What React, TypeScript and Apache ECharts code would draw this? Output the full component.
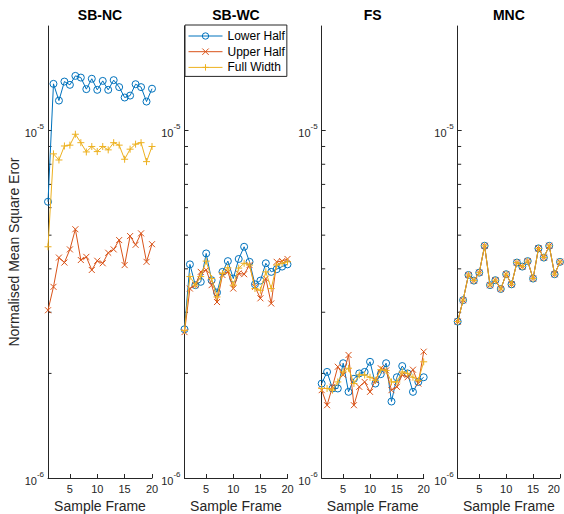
import React, { useEffect, useRef } from "react";
import * as echarts from "echarts";

const frames = [1, 2, 3, 4, 5, 6, 7, 8, 9, 10, 11, 12, 13, 14, 15, 16, 17, 18, 19, 20];
const panelTitles = ["SB-NC", "SB-WC", "FS", "MNC"];
const seriesNames = ["Lower Half", "Upper Half", "Full Width"];
const xTickValues = [5, 10, 15, 20];
const minorTickValues = [2e-6, 3e-6, 4e-6, 5e-6, 6e-6, 7e-6, 8e-6, 9e-6];

const ncLower = [6.24e-6, 1.363e-5, 1.22e-5, 1.384e-5, 1.354e-5, 1.437e-5, 1.421e-5, 1.316e-5, 1.41e-5, 1.31e-5, 1.39e-5, 1.31e-5, 1.397e-5, 1.334e-5, 1.245e-5, 1.261e-5, 1.36e-5, 1.334e-5, 1.212e-5, 1.32e-5];
const ncUpper = [3.04e-6, 3.55e-6, 4.31e-6, 4.17e-6, 4.55e-6, 5.2e-6, 4.24e-6, 4.33e-6, 3.97e-6, 4.22e-6, 4.15e-6, 4.45e-6, 4.55e-6, 4.84e-6, 4.1e-6, 4.97e-6, 4.69e-6, 5.06e-6, 4.19e-6, 4.71e-6];
const ncFull = [4.63e-6, 8.57e-6, 8.23e-6, 9.03e-6, 9.08e-6, 9.76e-6, 9.23e-6, 8.68e-6, 9.0e-6, 8.7e-6, 9.0e-6, 8.8e-6, 9.23e-6, 9.08e-6, 8.27e-6, 8.84e-6, 9.14e-6, 9.23e-6, 8.14e-6, 9.0e-6];

const wcLower = [2.68e-6, 4.12e-6, 3.59e-6, 3.67e-6, 4.43e-6, 3.71e-6, 3.42e-6, 3.92e-6, 4.21e-6, 3.75e-6, 4.27e-6, 4.63e-6, 4.19e-6, 3.61e-6, 3.7e-6, 4.15e-6, 3.92e-6, 3.99e-6, 4.06e-6, 4.12e-6];
const wcUpper = [2.63e-6, 3.51e-6, 3.59e-6, 3.92e-6, 3.97e-6, 3.59e-6, 3.21e-6, 3.84e-6, 3.92e-6, 3.51e-6, 3.88e-6, 3.86e-6, 4.1e-6, 3.55e-6, 3.29e-6, 3.75e-6, 3.18e-6, 4.19e-6, 4.21e-6, 4.27e-6];
const wcFull = [2.66e-6, 3.8e-6, 3.59e-6, 3.8e-6, 4.21e-6, 3.75e-6, 3.32e-6, 3.88e-6, 4.03e-6, 3.59e-6, 4.02e-6, 4.15e-6, 4.1e-6, 3.51e-6, 3.47e-6, 3.92e-6, 3.51e-6, 4.1e-6, 4.15e-6, 4.19e-6];

const fsLower = [1.87e-6, 2.02e-6, 1.81e-6, 1.81e-6, 2.14e-6, 1.77e-6, 1.93e-6, 2.0e-6, 2.02e-6, 2.16e-6, 1.87e-6, 1.99e-6, 2.14e-6, 1.66e-6, 1.95e-6, 2.1e-6, 2.0e-6, 1.77e-6, 1.89e-6, 1.95e-6];
const fsUpper = [1.79e-6, 1.62e-6, 1.83e-6, 2.09e-6, 1.98e-6, 2.26e-6, 1.62e-6, 1.83e-6, 1.89e-6, 1.77e-6, 1.91e-6, 2.07e-6, 2.04e-6, 1.79e-6, 1.83e-6, 1.98e-6, 1.95e-6, 2.05e-6, 1.87e-6, 2.31e-6];
const fsFull = [1.81e-6, 1.81e-6, 1.79e-6, 1.89e-6, 2.02e-6, 2.07e-6, 1.87e-6, 1.98e-6, 1.98e-6, 1.95e-6, 1.91e-6, 2.05e-6, 2.04e-6, 1.89e-6, 1.89e-6, 2.02e-6, 2.0e-6, 1.95e-6, 1.91e-6, 2.16e-6];

const mncLower = [2.82e-6, 3.25e-6, 3.84e-6, 3.7e-6, 3.9e-6, 4.66e-6, 3.59e-6, 3.71e-6, 3.5e-6, 3.86e-6, 3.61e-6, 4.17e-6, 4.06e-6, 4.21e-6, 3.75e-6, 4.58e-6, 4.31e-6, 4.66e-6, 3.86e-6, 4.19e-6];
const mncUpper = [2.82e-6, 3.25e-6, 3.84e-6, 3.7e-6, 3.9e-6, 4.66e-6, 3.59e-6, 3.71e-6, 3.5e-6, 3.86e-6, 3.61e-6, 4.17e-6, 4.06e-6, 4.21e-6, 3.75e-6, 4.58e-6, 4.31e-6, 4.66e-6, 3.86e-6, 4.19e-6];
const mncFull = [2.82e-6, 3.25e-6, 3.84e-6, 3.7e-6, 3.9e-6, 4.66e-6, 3.59e-6, 3.71e-6, 3.5e-6, 3.86e-6, 3.61e-6, 4.17e-6, 4.06e-6, 4.21e-6, 3.75e-6, 4.58e-6, 4.31e-6, 4.66e-6, 3.86e-6, 4.19e-6];

const panelData = [
  [ncLower, ncUpper, ncFull],
  [wcLower, wcUpper, wcFull],
  [fsLower, fsUpper, fsFull],
  [mncLower, mncUpper, mncFull],
];

const FONT = "'Liberation Sans', Arial, Helvetica, sans-serif";
const AX = "#262626";
const COLORS = ["#0072BD", "#D95319", "#EDB120"];
const SYMBOLS = [
  "path://M10,5A5,5 0 1 1 0,5A5,5 0 1 1 10,5Z",
  "path://M0,0L10,10M10,0L0,10",
  "path://M5,0L5,10M0,5L10,5",
];
const SYMBOL_SIZES = [7, 6, 7];

const gridLefts = [48, 184.5, 321.7, 457.7];
const gridWidths = [104, 103, 102, 102.3];
const GRID_TOP = 26;
const GRID_HEIGHT = 452;

export default function App() {
  const ref = useRef<HTMLDivElement>(null);

  useEffect(() => {
    if (!ref.current) return;
    const chart = echarts.init(ref.current, null, { renderer: "svg" });

    const grids = gridLefts.map((l, i) => ({
      left: l,
      top: GRID_TOP,
      width: gridWidths[i],
      height: GRID_HEIGHT,
      containLabel: false,
      outerBoundsMode: "none",
    }));

    const xAxes = gridLefts.map((_, i) => ({
      type: "value",
      gridIndex: i,
      min: 1,
      max: 20,
      axisLine: { show: true, lineStyle: { color: AX, width: 1 } },
      axisTick: { show: true, inside: true, length: 4, customValues: xTickValues, lineStyle: { color: AX } },
      axisLabel: {
        customValues: xTickValues,
        fontSize: 11,
        color: AX,
        margin: 5,
        fontFamily: FONT,
        alignMaxLabel: i === gridLefts.length - 1 ? "right" : undefined,
      },
      splitLine: { show: false },
      name: "Sample Frame",
      nameLocation: "middle",
      nameGap: 17,
      nameTextStyle: { fontSize: 14, color: AX, fontFamily: FONT },
    }));

    const yAxes = gridLefts.map((_, i) => ({
      type: "log",
      logBase: 10,
      gridIndex: i,
      min: 1e-6,
      max: 2e-5,
      axisLine: { show: true, lineStyle: { color: AX, width: 1 } },
      axisTick: { show: true, inside: true, length: 4, lineStyle: { color: AX } },
      axisLabel: {
        margin: 4,
        showMaxLabel: false,
        formatter: (v: number) => {
          const l = Math.log10(v);
          const e = Math.round(l);
          if (Math.abs(l - e) > 1e-6) return "";
          return `{b|10}{s|${e}}`;
        },
        rich: {
          b: { fontSize: 11, lineHeight: 16, color: AX, fontFamily: FONT, verticalAlign: "bottom" },
          s: { fontSize: 8, lineHeight: 8, color: AX, fontFamily: FONT, verticalAlign: "top" },
        },
      },
      splitLine: { show: false },
      name: i === 0 ? "Normalised Mean Square Eror" : "",
      nameLocation: "middle",
      nameGap: 22,
      nameTextStyle: { fontSize: 14, color: AX, fontFamily: FONT },
    }));

    const series: any[] = [];
    panelData.forEach((sets, i) => {
      series.push({
        type: "custom",
        name: "minor",
        xAxisIndex: i,
        yAxisIndex: i,
        silent: true,
        data: minorTickValues.map((v) => [1, v]),
        renderItem: (_p: any, api: any) => {
          const pt = api.coord([1, api.value(1)]);
          return {
            type: "line",
            shape: { x1: pt[0], y1: pt[1], x2: pt[0] + 3.5, y2: pt[1] },
            style: { stroke: AX, lineWidth: 1 },
          };
        },
      });
      sets.forEach((vals, k) => {
        series.push({
          type: "line",
          name: seriesNames[k],
          xAxisIndex: i,
          yAxisIndex: i,
          data: frames.map((f, j) => [f, vals[j]]),
          symbol: SYMBOLS[k],
          symbolSize: SYMBOL_SIZES[k],
          showAllSymbol: true,
          lineStyle: { color: COLORS[k], width: 1 },
          itemStyle: { color: "none", borderColor: COLORS[k], borderWidth: 1 },
          emphasis: { disabled: true },
          silent: true,
          z: 2 + k,
        });
      });
    });

    const graphics = gridLefts.map((l, i) => ({
      type: "text",
      x: l + gridWidths[i] / 2,
      y: 15,
      style: {
        text: panelTitles[i],
        font: `bold 14px ${FONT}`,
        fill: "#000",
        textAlign: "center",
        textVerticalAlign: "middle",
      },
    }));

    chart.setOption({
      animation: false,
      backgroundColor: "#fff",
      textStyle: { fontFamily: FONT },
      grid: grids,
      xAxis: xAxes,
      yAxis: yAxes,
      legend: {
        data: seriesNames,
        orient: "vertical",
        left: 185,
        top: 25,
        itemWidth: 34,
        itemHeight: 8,
        itemGap: 1.7,
        padding: [4, 2, 2, 3],
        borderColor: AX,
        borderWidth: 1,
        backgroundColor: "#fff",
        selectedMode: false,
        lineStyle: { width: 1 },
        itemStyle: { borderWidth: 1 },
        textStyle: { fontSize: 12, color: "#000", fontFamily: FONT, lineHeight: 14 },
      },
      graphic: graphics,
      series,
    });

    return () => chart.dispose();
  }, []);

  return (
    <div
      ref={ref}
      style={{ position: "fixed", left: 0, top: 0, width: 564, height: 514 }}
    />
  );
}
